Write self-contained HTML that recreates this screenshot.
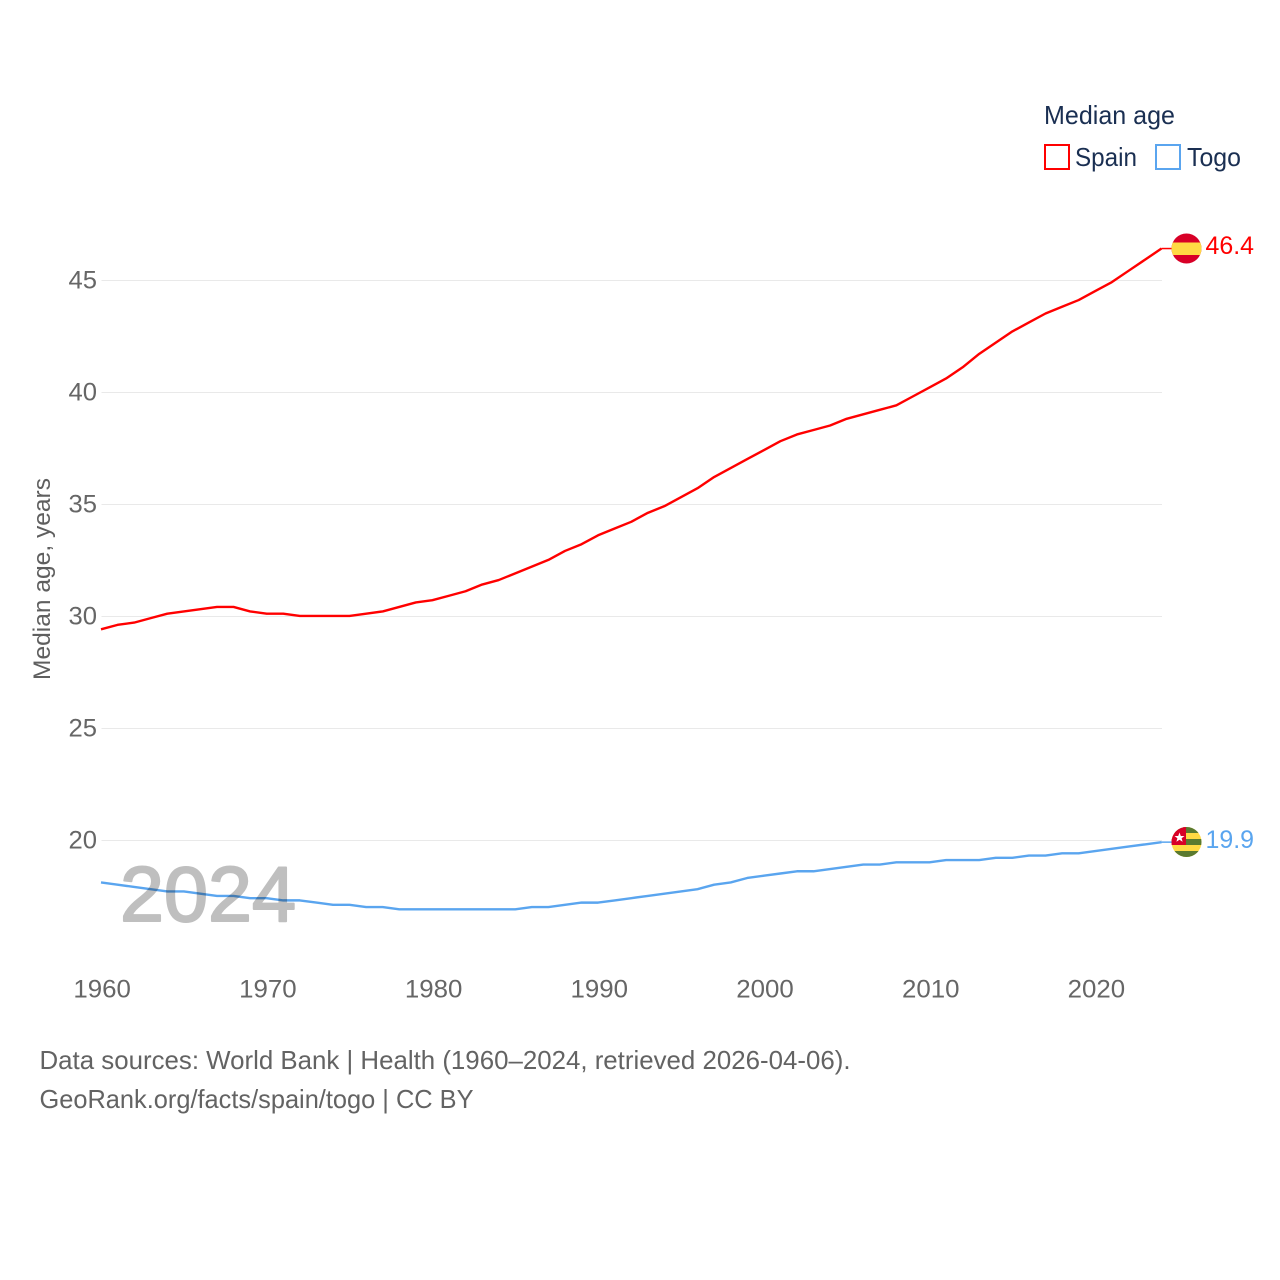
<!DOCTYPE html>
<html lang="en">
<head>
<meta charset="utf-8">
<title>Median age: Spain and Togo</title>
<style>
html,body{margin:0;padding:0;background:#fff;}
svg{display:block;font-family:"Liberation Sans",sans-serif;}
</style>
</head>
<body>
<svg id="chart" width="1280" height="1280" viewBox="0 0 1280 1280" xmlns="http://www.w3.org/2000/svg">
  <defs>
    <clipPath id="flag-clip-spain"><circle cx="1186.5" cy="248.5" r="15"/></clipPath>
    <clipPath id="flag-clip-togo"><circle cx="1186.5" cy="842" r="15"/></clipPath>
  </defs>
  <rect width="1280" height="1280" fill="#fff"/>
  <g id="grid"></g>
  <g id="yticks"></g>
  <g id="xticks"></g>
  <text transform="translate(50,680) rotate(-90)" font-size="24" fill="#5f5f5f" textLength="202" lengthAdjust="spacingAndGlyphs">Median age, years</text>
  <g id="series" transform="translate(-0.5,-0.6)"></g>
  <text x="120" y="921" font-size="78" fill="#bfbfbf" stroke="#bfbfbf" stroke-width="2" stroke-linejoin="round" style="mix-blend-mode:multiply" textLength="176" lengthAdjust="spacingAndGlyphs">2024</text>

  <g clip-path="url(#flag-clip-spain)">
    <rect x="1171" y="233" width="31" height="31" fill="#d80027"/>
    <rect x="1171" y="242.5" width="31" height="12.5" fill="#ffda44"/>
  </g>
  <g clip-path="url(#flag-clip-togo)">
    <rect x="1171" y="827" width="31" height="31" fill="#ffda44"/>
    <rect x="1171" y="827" width="31" height="6" fill="#5a7a30"/>
    <rect x="1171" y="839" width="31" height="6" fill="#5a7a30"/>
    <rect x="1171" y="851" width="31" height="6" fill="#5a7a30"/>
    <rect x="1171" y="827" width="15" height="18" fill="#d80027"/>
    <polygon fill="#fff" points="1179.5,832.5 1180.8,836 1184.5,836 1181.6,838.2 1182.6,841.8 1179.5,839.7 1176.4,841.8 1177.4,838.2 1174.5,836 1178.2,836"/>
  </g>
  <text x="1205.5" y="254" font-size="25" fill="#ff0000" textLength="48.5" lengthAdjust="spacingAndGlyphs">46.4</text>
  <text x="1205.5" y="848" font-size="25" fill="#5aa5ef" textLength="48.5" lengthAdjust="spacingAndGlyphs">19.9</text>

  <g>
    <text x="1044" y="124" font-size="26" fill="#1a2f52" textLength="131" lengthAdjust="spacingAndGlyphs">Median age</text>
    <g>
      <rect x="1045" y="145" width="24" height="24" fill="#fff" stroke="#ff0000" stroke-width="2"/>
      <text x="1075" y="166" font-size="26" fill="#1a2f52" textLength="62" lengthAdjust="spacingAndGlyphs">Spain</text>
    </g>
    <g>
      <rect x="1156" y="145" width="24" height="24" fill="#fff" stroke="#5aa5ef" stroke-width="2"/>
      <text x="1187" y="166" font-size="26" fill="#1a2f52" textLength="54" lengthAdjust="spacingAndGlyphs">Togo</text>
    </g>
  </g>

  <text x="39.5" y="1069" font-size="26" fill="#636363" textLength="811" lengthAdjust="spacingAndGlyphs">Data sources: World Bank | Health (1960–2024, retrieved 2026-04-06).</text>
  <text x="39.5" y="1108" font-size="26" fill="#636363" textLength="434" lengthAdjust="spacingAndGlyphs">GeoRank.org/facts/spain/togo | CC BY</text>
</svg>
<script>
const years = [1960,1961,1962,1963,1964,1965,1966,1967,1968,1969,1970,1971,1972,1973,1974,1975,1976,1977,1978,1979,1980,1981,1982,1983,1984,1985,1986,1987,1988,1989,1990,1991,1992,1993,1994,1995,1996,1997,1998,1999,2000,2001,2002,2003,2004,2005,2006,2007,2008,2009,2010,2011,2012,2013,2014,2015,2016,2017,2018,2019,2020,2021,2022,2023,2024];
const spainValues = [29.4,29.6,29.7,29.9,30.1,30.2,30.3,30.4,30.4,30.2,30.1,30.1,30.0,30.0,30.0,30.0,30.1,30.2,30.4,30.6,30.7,30.9,31.1,31.4,31.6,31.9,32.2,32.5,32.9,33.2,33.6,33.9,34.2,34.6,34.9,35.3,35.7,36.2,36.6,37.0,37.4,37.8,38.1,38.3,38.5,38.8,39.0,39.2,39.4,39.8,40.2,40.6,41.1,41.7,42.2,42.7,43.1,43.5,43.8,44.1,44.5,44.9,45.4,45.9,46.4];
const togoValues = [18.1,18.0,17.9,17.8,17.7,17.7,17.6,17.5,17.5,17.4,17.4,17.3,17.3,17.2,17.1,17.1,17.0,17.0,16.9,16.9,16.9,16.9,16.9,16.9,16.9,16.9,17.0,17.0,17.1,17.2,17.2,17.3,17.4,17.5,17.6,17.7,17.8,18.0,18.1,18.3,18.4,18.5,18.6,18.6,18.7,18.8,18.9,18.9,19.0,19.0,19.0,19.1,19.1,19.1,19.2,19.2,19.3,19.3,19.4,19.4,19.5,19.6,19.7,19.8,19.9];
const yTickValues = [20,25,30,35,40,45];
const xTickValues = [1960,1970,1980,1990,2000,2010,2020];

const NS = 'http://www.w3.org/2000/svg';
function xScale(year){ return 101.5 + (year - 1960) * (1162 - 101.5) / 64; }
function yScale(v){ return 840.5 - (v - 20) * (840.5 - 280.5) / 25; }
function make(tag, attrs, parent){
  const el = document.createElementNS(NS, tag);
  for (const k in attrs) el.setAttribute(k, attrs[k]);
  parent.appendChild(el);
  return el;
}

const grid = document.getElementById('grid');
const yticks = document.getElementById('yticks');
yTickValues.forEach(function(v){
  const line = make('line', {x1: 101.5, x2: 1162, y1: yScale(v), y2: yScale(v), stroke: '#e9e9e9', 'stroke-width': 1}, grid);
  
  
  const label = make('text', {x: 97, y: yScale(v) + 8, 'text-anchor': 'end', 'font-size': 25, fill: '#666', textLength: 28.5, lengthAdjust: 'spacingAndGlyphs'}, yticks);
  
  
  label.textContent = String(v);
});

const xticks = document.getElementById('xticks');
xTickValues.forEach(function(y){
  const label = make('text', {x: xScale(y) + 0.7, y: 997.5, 'text-anchor': 'middle', 'font-size': 25, fill: '#666', textLength: 57.5, lengthAdjust: 'spacingAndGlyphs'}, xticks);
  
  
  label.textContent = String(y);
});

const seriesGroup = document.getElementById('series');
function drawSeries(values, color){
  const pts = values.map(function(v, i){ return xScale(years[i]).toFixed(2) + ',' + yScale(v).toFixed(2); });
  const last = values[values.length - 1];
  const connector = make('line', {x1: 1162, x2: 1172, y1: yScale(last), y2: yScale(last), stroke: color, 'stroke-width': 1.5}, seriesGroup);
  
  
  const line = make('polyline', {points: pts.join(' '), fill: 'none', stroke: color, 'stroke-width': 2.4, 'stroke-linejoin': 'round'}, seriesGroup);
  
  
}
drawSeries(spainValues, '#ff0000');
drawSeries(togoValues, '#5aa5ef');
</script>
</body>
</html>
